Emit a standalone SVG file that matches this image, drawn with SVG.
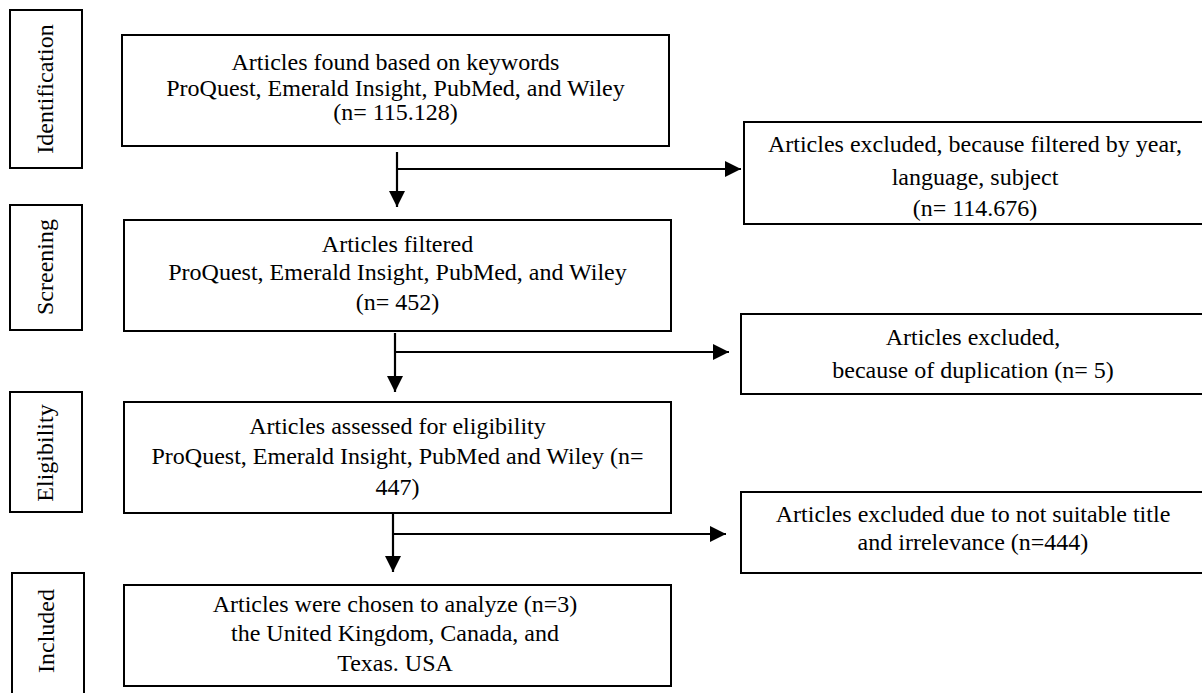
<svg xmlns="http://www.w3.org/2000/svg" width="1202" height="693" viewBox="0 0 1202 693">
  <style>
    .box { fill: #ffffff; stroke: #000000; stroke-width: 2; }
    .t { font-family: "Liberation Serif", "Times New Roman", serif; font-size: 24px; fill: #000000; text-anchor: middle; }
    .conn { stroke: #000000; stroke-width: 2.2; fill: none; }
  </style>
  <defs>
    <marker id="ah" markerUnits="userSpaceOnUse" markerWidth="16" markerHeight="16" refX="16" refY="8" orient="auto">
      <path d="M0,0 L16,8 L0,16 Z" fill="#000000"/>
    </marker>
  </defs>
  <rect x="0" y="0" width="1202" height="693" fill="#ffffff"/>

  <g id="stage-identification">
    <rect class="box" x="10" y="10" width="72" height="158"/>
    <text class="t" transform="translate(53,89) rotate(-90)">Identification</text>
  </g>
  <g id="stage-screening">
    <rect class="box" x="10" y="205" width="72" height="125"/>
    <text class="t" transform="translate(53,267) rotate(-90)">Screening</text>
  </g>
  <g id="stage-eligibility">
    <rect class="box" x="10" y="392" width="72" height="120"/>
    <text class="t" transform="translate(53,453) rotate(-90)">Eligibility</text>
  </g>
  <g id="stage-included">
    <rect class="box" x="12" y="573" width="72" height="130"/>
    <text class="t" transform="translate(54,631) rotate(-90)">Included</text>
  </g>

  <g id="box-found">
    <rect class="box" x="122" y="35" width="547" height="111"/>
    <text class="t" x="395.5" y="70">Articles found based on keywords</text>
    <text class="t" x="395.5" y="96">ProQuest, Emerald Insight, PubMed, and Wiley</text>
    <text class="t" x="395.5" y="120">(n= 115.128)</text>
  </g>
  <g id="box-filtered">
    <rect class="box" x="124" y="220" width="547" height="111"/>
    <text class="t" x="397.5" y="252">Articles filtered</text>
    <text class="t" x="397.5" y="280">ProQuest, Emerald Insight, PubMed, and Wiley</text>
    <text class="t" x="397.5" y="310">(n= 452)</text>
  </g>
  <g id="box-eligibility">
    <rect class="box" x="124" y="402" width="547" height="111"/>
    <text class="t" x="397.5" y="434">Articles assessed for eligibility</text>
    <text class="t" x="397.5" y="464">ProQuest, Emerald Insight, PubMed and Wiley (n=</text>
    <text class="t" x="397.5" y="495">447)</text>
  </g>
  <g id="box-included">
    <rect class="box" x="124" y="585" width="547" height="101"/>
    <text class="t" x="395" y="612">Articles were chosen to analyze (n=3)</text>
    <text class="t" x="395" y="641">the United Kingdom, Canada, and</text>
    <text class="t" x="395" y="671">Texas. USA</text>
  </g>

  <g id="box-excluded-1">
    <rect class="box" x="744" y="122" width="470" height="102"/>
    <text class="t" x="975" y="152">Articles excluded, because filtered by year,</text>
    <text class="t" x="975" y="185">language, subject</text>
    <text class="t" x="975" y="216">(n= 114.676)</text>
  </g>
  <g id="box-excluded-2">
    <rect class="box" x="741" y="314" width="470" height="80"/>
    <text class="t" x="973" y="345">Articles excluded,</text>
    <text class="t" x="973" y="378">because of duplication (n= 5)</text>
  </g>
  <g id="box-excluded-3">
    <rect class="box" x="741" y="492" width="470" height="81"/>
    <text class="t" x="973" y="522">Articles excluded due to not suitable title</text>
    <text class="t" x="973" y="550">and irrelevance (n=444)</text>
  </g>

  <g id="connectors">
    <line class="conn" x1="397" y1="152" x2="397" y2="207" marker-end="url(#ah)"/>
    <line class="conn" x1="397" y1="169" x2="741" y2="169" marker-end="url(#ah)"/>
    <line class="conn" x1="395" y1="333" x2="395" y2="392" marker-end="url(#ah)"/>
    <line class="conn" x1="395" y1="352" x2="729" y2="352" marker-end="url(#ah)"/>
    <line class="conn" x1="393" y1="513" x2="393" y2="572" marker-end="url(#ah)"/>
    <line class="conn" x1="393" y1="534" x2="726" y2="534" marker-end="url(#ah)"/>
  </g>
</svg>
